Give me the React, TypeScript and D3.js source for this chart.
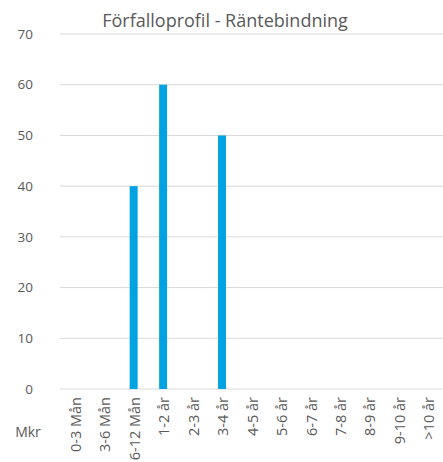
import React from "react";
import * as d3 from "d3";

const categories = ["0-3 Mån", "3-6 Mån", "6-12 Mån", "1-2 år", "2-3 år", "3-4 år", "4-5 år", "5-6 år", "6-7 år", "7-8 år", "8-9 år", "9-10 år", ">10 år"];
const values = [0, 0, 40, 60, 0, 50, 0, 0, 0, 0, 0, 0, 0];
const yTicks = [0, 10, 20, 30, 40, 50, 60, 70];
const title = "Förfalloprofil - Räntebindning";
const unitLabel = "Mkr";

export default function App() {
  const W = 443, H = 462;
  const left = 60, right = 443, top = 34, bottom = 389;
  const x = d3.scaleBand().domain(categories).range([left, right]).paddingInner(0.73).paddingOuter(0.365);
  const xc = d3.scaleBand().domain(categories).range([left, right]);
  const y = d3.scaleLinear().domain([0, 70]).range([bottom, top]);
  const font = "'Open Sans', sans-serif";
  const textColor = "#595959";
  return (
    <svg width={W} height={H} style={{ position: "absolute", left: 0, top: 0 }} fontFamily={font}>
      <rect width={W} height={H} fill="#fff" />
      <text x={225} y={27} textAnchor="middle" fontSize={18} fill={textColor}>{title}</text>
      {yTicks.map((t) => (
        <g key={t}>
          <line x1={left} x2={right} y1={y(t)} y2={y(t)} stroke="#d9d9d9" strokeWidth={1} />
          <text x={33} y={y(t)} dy="0.35em" textAnchor="end" fontSize={13.5} fill={textColor}>{t}</text>
        </g>
      ))}
      {categories.map((c, i) => (
        <rect key={c} x={x(c)} width={x.bandwidth()} y={y(values[i])} height={bottom - y(values[i])} fill="#00a2e1" />
      ))}
      {categories.map((c) => {
        const cx = (xc(c) ?? 0) + xc.bandwidth() / 2;
        return (
          <text key={c} transform={`translate(${cx + 1},397) rotate(-90)`} textAnchor="end" dy="0.35em" fontSize={14.5} fill={textColor}>{c}</text>
        );
      })}
      <text x={28} y={432} dy="0.35em" textAnchor="middle" fontSize={14} fill={textColor}>{unitLabel}</text>
    </svg>
  );
}
